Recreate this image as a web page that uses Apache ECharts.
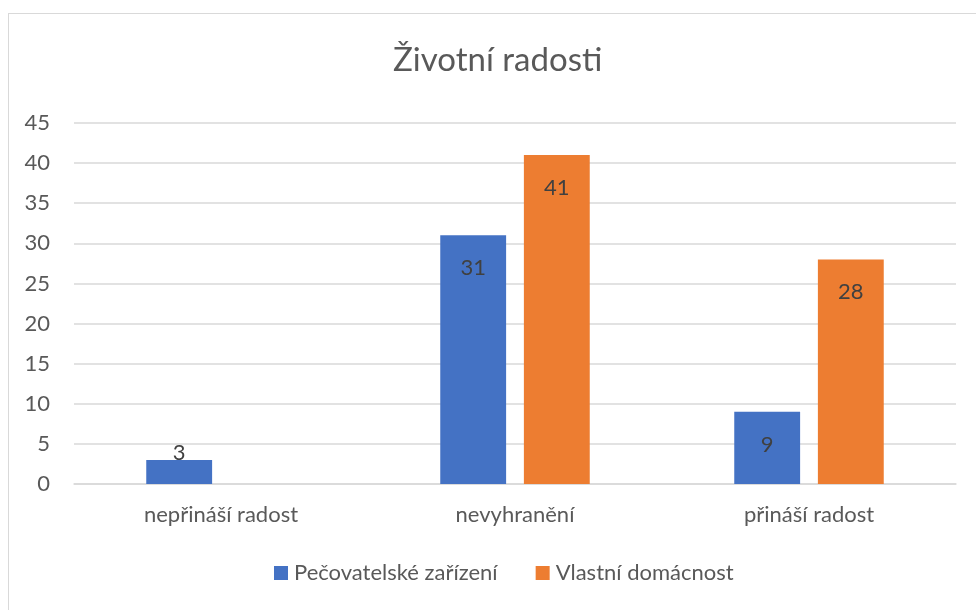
<!DOCTYPE html>
<html>
<head>
<meta charset="utf-8">
<script src="https://cdn.jsdelivr.net/npm/echarts@6/dist/echarts.min.js"></script>
<style>
  html, body { margin: 0; padding: 0; background: #fff; }
  #frame { position: absolute; left: 8px; top: 13px; width: 1200px; height: 900px;
           border-left: 1px solid #d9d9d9; border-top: 1px solid #d9d9d9; }
  #main { position: absolute; left: 0; top: 0; width: 976px; height: 610px; }
</style>
</head>
<body>
<div id="frame"></div>
<div id="main"></div>
<script>
const categories = ['nepřináší radost', 'nevyhranění', 'přináší radost'];
const seriesNames = ['Pečovatelské zařízení', 'Vlastní domácnost'];
const careHome = [3, 31, 9];
const ownHome = [null, 41, 28];
const seriesColors = ['#4472c4', '#ed7d31'];

const font = 'Lato, "Open Sans", sans-serif';

const chart = echarts.init(document.getElementById('main'));

// Excel pushes the label above the bar when it doesn't fit inside
const withLabels = (data) => data.map(v =>
  v !== null && v < 5 ? { value: v, label: { position: 'top', distance: -4 } } : v
);

const makeSeries = (name, data, color) => ({
  name: name,
  type: 'bar',
  data: withLabels(data),
  barWidth: '22.4%',
  barGap: '27%',
  itemStyle: { color: color },
  label: {
    show: true,
    position: 'insideTop',
    distance: 22,
    color: '#404040',
    fontFamily: font,
    fontSize: 22
  }
});

chart.setOption({
  animation: false,
  title: {
    text: 'Životní radosti',
    left: 388,
    top: 39,
    textStyle: { fontFamily: font, fontSize: 33, fontWeight: 'normal', color: '#595959' }
  },
  legend: {
    top: 557,
    left: 269,
    itemWidth: 14,
    itemHeight: 14,
    itemGap: 38,
    icon: 'rect',
    textStyle: { fontFamily: font, fontSize: 22, color: '#595959', padding: [0, 0, 0, 1] },
    data: seriesNames
  },
  grid: { left: 74, right: 20, top: 123, bottom: 126 },
  xAxis: {
    type: 'category',
    data: categories,
    axisLine: { lineStyle: { color: '#d9d9d9', width: 1.5 } },
    axisTick: { show: false },
    axisLabel: { fontFamily: font, fontSize: 22, color: '#595959', margin: 20 }
  },
  yAxis: {
    type: 'value',
    min: 0,
    max: 45,
    interval: 5,
    axisLine: { show: false },
    axisTick: { show: false },
    splitLine: { lineStyle: { color: '#d9d9d9', width: 1.5 } },
    axisLabel: { fontFamily: font, fontSize: 22, color: '#595959', margin: 24 }
  },
  series: [
    makeSeries(seriesNames[0], careHome, seriesColors[0]),
    makeSeries(seriesNames[1], ownHome, seriesColors[1])
  ]
});
</script>
</body>
</html>
